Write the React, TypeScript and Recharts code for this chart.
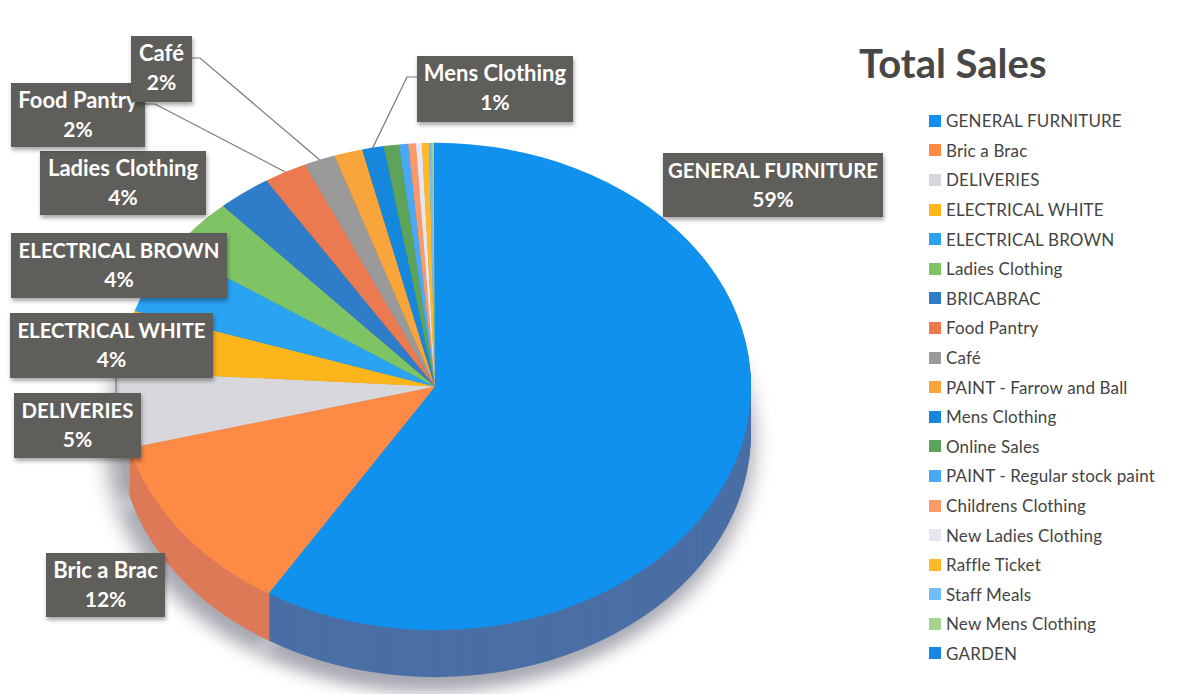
import { Legend, Pie, PieChart } from "recharts";

const categories = [
  "GENERAL FURNITURE",
  "Bric a Brac",
  "DELIVERIES",
  "ELECTRICAL WHITE",
  "ELECTRICAL BROWN",
  "Ladies Clothing",
  "BRICABRAC",
  "Food Pantry",
  "Café",
  "PAINT - Farrow and Ball",
  "Mens Clothing",
  "Online Sales",
  "PAINT - Regular stock paint",
  "Childrens Clothing",
  "New Ladies Clothing",
  "Raffle Ticket",
  "Staff Meals",
  "New Mens Clothing",
  "GARDEN",
];
const sales = [58.8, 12.1, 5.05, 4.05, 4.45, 3.8, 2.75, 2.2, 1.6, 1.45, 1.1, 0.78, 0.47, 0.39, 0.3, 0.36, 0.15, 0.1, 0.05];
const topColors = [
  "#1191ee", "#fd8a45", "#d7d7dc", "#fdb51c", "#2aa3f2", "#7fc464", "#2f7cc8", "#ec7a50", "#9a9a9a", "#f9a53b",
  "#1588de", "#5ea35a", "#4aa8f5", "#fb9a68", "#e6e6f2", "#fdb92a", "#72bdf5", "#a5d48e", "#1488e4",
];
const sideColors = [
  "#4a6fa5", "#dd7a58", "#a9a9ad", "#c99420", "#2a7fc0", "#669e52", "#255f9d", "#bb6040", "#7a7a7a", "#c5832e",
  "#116cb2", "#4b8248", "#3b86c4", "#c97b53", "#b8b8c2", "#ca9422", "#5b97c4", "#84aa72", "#106cb6",
];

const SCALE_Y = 0.771;
const CX = 435;
const CY = 386.5;
const RADIUS = 316;
const DEPTH = 47;

const topRows = categories.map((name, i) => ({ name, value: sales[i], fill: topColors[i] }));
const sideRows = categories.map((name, i) => ({ name, value: sales[i], fill: sideColors[i] }));
const sideOffsets = Array.from({ length: DEPTH / 2 + 1 }, (_, i) => Math.min(i * 2, DEPTH));

// label box layout, with the elbow of the leader line where there is one
const labelBoxes: Record<string, { x: number; y: number; w: number; h: number; elbow?: number[]; start?: number[]; stub?: number[] }> = {
  "GENERAL FURNITURE": { x: 663, y: 153, w: 220, h: 64 },
  "Bric a Brac": { x: 46, y: 553, w: 119, h: 64 },
  DELIVERIES: { x: 14, y: 393, w: 127, h: 65 },
  "ELECTRICAL WHITE": { x: 10, y: 313, w: 203, h: 65, stub: [116, 378, 116, 393] },
  "ELECTRICAL BROWN": { x: 11, y: 233, w: 216, h: 65 },
  "Ladies Clothing": { x: 40, y: 151, w: 166, h: 64 },
  "Food Pantry": { x: 11, y: 83, w: 134, h: 64, start: [145, 104], elbow: [155, 104] },
  Café: { x: 131, y: 36, w: 61, h: 66, start: [192, 58], elbow: [200, 58] },
  "Mens Clothing": { x: 417, y: 56, w: 156, h: 66, start: [417, 77], elbow: [407, 77] },
};

const RAD = Math.PI / 180;

function SliceLabel(props: any) {
  const { name, percent, midAngle } = props;
  const box = labelBoxes[name];
  if (!box) return null;
  const rimX = CX + RADIUS * Math.cos(midAngle * RAD);
  const rimY = CY - RADIUS * SCALE_Y * Math.sin(midAngle * RAD);
  const nameSize = name === name.toUpperCase() ? 20.4 : 22;
  return (
    <g>
      {box.start && box.elbow && (
        <polyline
          points={`${box.start[0]},${box.start[1]} ${box.elbow[0]},${box.elbow[1]} ${rimX},${rimY}`}
          fill="none"
          stroke="#77797b"
          strokeWidth={1.2}
        />
      )}
      {box.stub && (
        <line x1={box.stub[0]} y1={box.stub[1]} x2={box.stub[2]} y2={box.stub[3]} stroke="#77797b" strokeWidth={1.2} />
      )}
      <rect
        x={box.x}
        y={box.y}
        width={box.w}
        height={box.h}
        fill="#605e5a"
        style={{ filter: "drop-shadow(1px 3px 2px rgba(0,0,0,0.35))" }}
      />
      <text x={box.x + box.w / 2} y={box.y + 25} textAnchor="middle" fill="#fff" fontSize={nameSize} fontWeight={700}>
        {name}
      </text>
      <text x={box.x + box.w / 2} y={box.y + 54} textAnchor="middle" fill="#fff" fontSize={21} fontWeight={700}>
        {Math.round(percent * 100)}%
      </text>
    </g>
  );
}

function SalesLegend({ payload }: any) {
  const items = (payload ?? []).filter((p: any) => p.type !== "none");
  return (
    <div>
      {items.map((p: any) => (
        <div key={p.value} style={{ display: "flex", alignItems: "center", height: 29.6, whiteSpace: "nowrap" }}>
          <span style={{ width: 12, height: 12, background: p.color, marginRight: 5 }} />
          <span style={{ fontSize: 17, color: "#444", letterSpacing: 0.15 }}>{p.value}</span>
        </div>
      ))}
    </div>
  );
}

export default function App() {
  return (
    <div style={{ position: "absolute", left: 0, top: 0, width: 1189, height: 694, background: "#fff", fontFamily: "Lato, sans-serif" }}>
      <style>{`
        .recharts-pie-sector { transform: scaleY(${SCALE_Y}); transform-origin: 0 0; }
        .pie-shadow .recharts-pie-sector { filter: blur(10px); }
      `}</style>
      <PieChart width={1189} height={694} margin={{ top: 0, right: 0, bottom: 0, left: 0 }}>
        <Pie
          className="pie-shadow"
          data={categories.map((name, i) => ({ name, value: sales[i], fill: "#a8a8b2" }))}
          dataKey="value"
          nameKey="name"
          cx={CX - 5}
          cy={(CY + DEPTH + 9) / SCALE_Y}
          outerRadius={RADIUS + 8}
          startAngle={90}
          endAngle={-270}
          stroke="none"
          legendType="none"
          isAnimationActive={false}
        />
        {sideOffsets.map((offset) => (
          <Pie
            key={offset}
            data={sideRows}
            dataKey="value"
            nameKey="name"
            cx={CX}
            cy={(CY + DEPTH - offset) / SCALE_Y}
            outerRadius={RADIUS}
            startAngle={90}
            endAngle={-270}
            stroke="none"
            legendType="none"
            isAnimationActive={false}
          />
        ))}
        <Pie
          data={topRows}
          dataKey="value"
          nameKey="name"
          cx={CX}
          cy={CY / SCALE_Y}
          outerRadius={RADIUS}
          startAngle={90}
          endAngle={-270}
          stroke="none"
          label={SliceLabel}
          labelLine={false}
          isAnimationActive={false}
        />
        <text x={859} y={78} fill="#474747" fontSize={40} fontWeight={700}>
          Total Sales
        </text>
        <Legend
          layout="vertical"
          align="right"
          verticalAlign="top"
          itemSorter={null}
          content={SalesLegend}
          wrapperStyle={{ left: 929, top: 106, width: 250, right: "auto" }}
        />
      </PieChart>
    </div>
  );
}
